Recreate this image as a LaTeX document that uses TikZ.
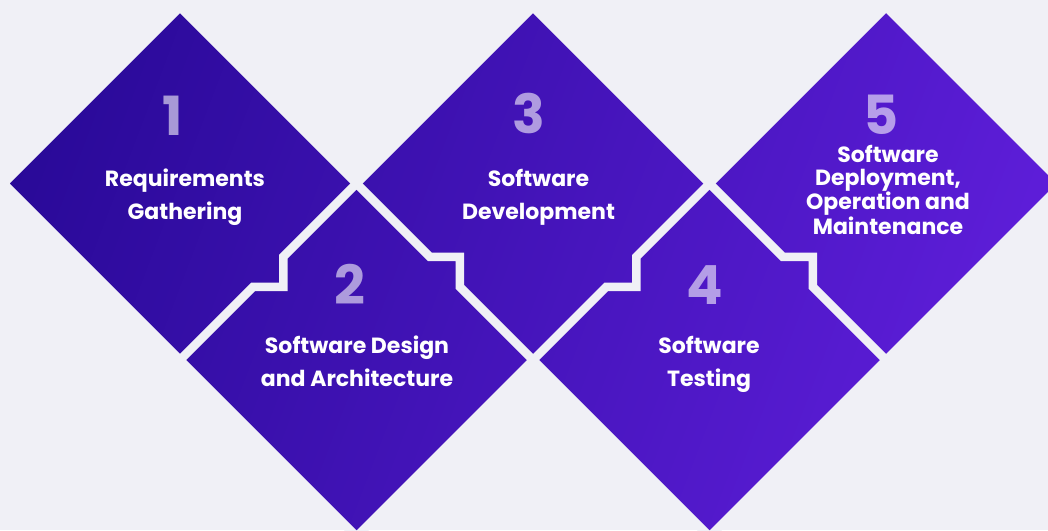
\documentclass[tikz,border=0pt]{standalone}
\usepackage{fontspec}
\setmainfont{Poppins}
\usetikzlibrary{calc}
\definecolor{pagebg}{RGB}{240,240,246}
\definecolor{tileA}{RGB}{37,8,147}
\definecolor{tileB}{RGB}{100,32,225}
\tikzset{
  gapline/.style={draw=pagebg, line width=8.5pt, line join=miter},
  stepno/.style={font=\bfseries\fontsize{54}{54}\selectfont, text=white, text opacity=0.58, anchor=base, inner sep=0pt},
  steplabel/.style={font=\bfseries\fontsize{22}{33}\selectfont, text=white, align=center, inner sep=0pt},
  steplabeltight/.style={steplabel, font=\bfseries\fontsize{22}{22.6}\selectfont},
}
\begin{document}
\begin{tikzpicture}[x=1pt,y=-1pt]
\fill[pagebg] (0,0) rectangle (1048,530);
\useasboundingbox (0,0) rectangle (1048,530);

% outer corners of the five tiles (shared corners named once)
\coordinate (L1)  at (3.5,183.5);
\coordinate (T1)  at (180,7);
\coordinate (P12) at (356.5,183.5);
\coordinate (T3)  at (533,7);
\coordinate (P34) at (709.5,183.5);
\coordinate (T5)  at (886,7);
\coordinate (R5)  at (1062.5,183.5);
\coordinate (B5)  at (886,360);
\coordinate (B4)  at (709.5,536.5);
\coordinate (B3)  at (533,360);
\coordinate (B2)  at (356.5,536.5);
\coordinate (B1)  at (180,360);

% diagonal purple gradient, clipped to the outline of all tiles
\begin{scope}
  \clip (L1) -- (T1) -- (P12) -- (T3) -- (P34) -- (T5) -- (R5) -- (B5)
        -- (B4) -- (B3) -- (B2) -- (B1) -- cycle;
  \foreach \i in {0,...,124}{
    \pgfmathsetmacro\ua{10*\i-1}
    \pgfmathsetmacro\ub{10*\i+11}
    \pgfmathsetmacro\p{\i*0.8}
    \fill[tileB!\p!tileA] (\ua+7.6,-20) -- (\ub+7.6,-20) -- (\ub-209,550) -- (\ua-209,550) -- cycle;
  }
\end{scope}

% gaps: outer rim and the stepped joints between neighbouring tiles
\draw[gapline] (L1) -- (T1) -- (P12) -- (T3) -- (P34) -- (T5) -- (R5) -- (B5)
      -- (B4) -- (B3) -- (B2) -- (B1) -- cycle;
\draw[gapline] (P12) -- (283.25,256.75) -- (283.25,286.75) -- (253.25,286.75) -- (B1);
\draw[gapline] (P12) -- (429.75,256.75) -- (459.75,256.75) -- (459.75,286.75) -- (B3);
\draw[gapline] (P34) -- (636.25,256.75) -- (636.25,286.75) -- (606.25,286.75) -- (B3);
\draw[gapline] (P34) -- (782.75,256.75) -- (812.75,256.75) -- (812.75,286.75) -- (B5);

% step numbers
\node[stepno] (n1) at (173,135)   {1};
\node[stepno] (n2) at (349.5,304) {2};
\node[stepno] (n3) at (529,133.5) {3};
\node[stepno] (n4) at (705,304)   {4};
\node[stepno] (n5) at (881,134)   {5};

% step titles
\node[steplabel] (l1) at (185,197) {Requirements\\Gathering};
\node[steplabel] (l2) at (357,361) {Software Design\\and Architecture};
\node[steplabel] (l3) at (538.5,197.5) {Software\\Development};
\node[steplabel] (l4) at (709,364) {Software\\Testing};
\node[steplabeltight] (l5) at (888,190) {Software\\Deployment,\\Operation and\\Maintenance};
\end{tikzpicture}
\end{document}
